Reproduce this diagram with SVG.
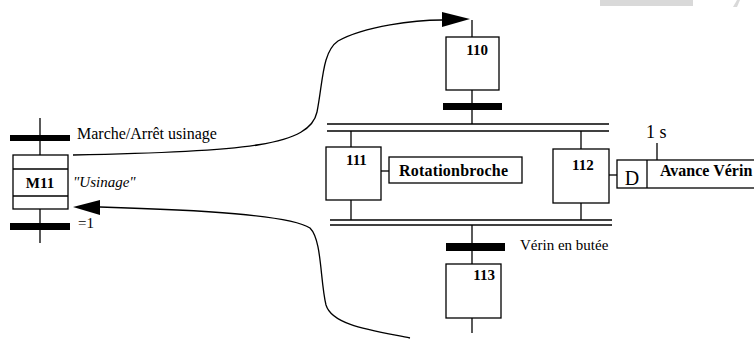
<svg xmlns="http://www.w3.org/2000/svg" width="754" height="340" viewBox="0 0 754 340">
<style>
.ln{stroke:#000;stroke-width:1.3;fill:none}
.box{stroke:#000;stroke-width:1.3;fill:#fff}
.bar{fill:#000}
.t{font-family:"Liberation Serif","Times New Roman",serif;fill:#000}
.b{font-weight:bold}
.num{font-family:"Liberation Serif","Times New Roman",serif;font-weight:bold;font-size:15px;fill:#000}
</style>
<rect width="754" height="340" fill="#fff"/>
<rect x="600" y="0" width="93" height="6" fill="#d9d9d9"/>
<polygon points="733,7 737,0 740,0 737,7" fill="#d9d9d9"/>

<g id="connectors">
  <path class="ln" d="M73,155 C250,152 310,145 317,112 C323,82 322,52 338,41 C365,26 415,20 442,20"/>
  <polygon points="442,12 470,19 442,27" fill="#000"/>
  <path class="ln" d="M100,207 C200,210 290,215 310,228 C322,240 320,280 326,305 C332,325 370,330 410,338"/>
  <polygon points="73,207 100,200 100,215" fill="#000"/>
</g>

<g id="M11">
  <line class="ln" x1="40" y1="118" x2="40" y2="243"/>
  <rect class="bar" x="10" y="135" width="60" height="6"/>
  <rect class="box" x="13" y="155" width="55" height="54"/>
  <line class="ln" x1="13" y1="169" x2="68" y2="169"/>
  <line class="ln" x1="13" y1="196" x2="68" y2="196"/>
  <text class="t b" x="40" y="188" font-size="15" text-anchor="middle">M11</text>
  <rect class="bar" x="10" y="223" width="60" height="7"/>
  <text class="t" x="77" y="139" font-size="16">Marche/Arrêt usinage</text>
  <text class="t" x="73" y="187" font-size="15" font-style="italic">"Usinage"</text>
  <text class="t" x="78" y="228" font-size="15">=1</text>
</g>

<g id="step110">
  <line class="ln" x1="472" y1="20" x2="472" y2="124"/>
  <rect class="box" x="446" y="37" width="53" height="53"/>
  <text class="num" x="488" y="55" text-anchor="end">110</text>
  <rect class="bar" x="443" y="103" width="59" height="7"/>
</g>

<g id="divergence">
  <line class="ln" x1="327" y1="124" x2="609" y2="124"/>
  <line class="ln" x1="327" y1="131" x2="609" y2="131"/>
  <line class="ln" x1="330" y1="220" x2="612" y2="220"/>
  <line class="ln" x1="330" y1="225" x2="612" y2="225"/>
</g>

<g id="step111">
  <line class="ln" x1="351" y1="131" x2="351" y2="220"/>
  <rect class="box" x="326" y="147" width="55" height="53"/>
  <text class="num" x="346" y="165">111</text>
  <line class="ln" x1="381" y1="171" x2="389" y2="171"/>
  <rect class="box" x="389" y="157" width="133" height="26"/>
  <text class="t b" x="399" y="176" font-size="16" textLength="109">Rotationbroche</text>
</g>

<g id="step112">
  <line class="ln" x1="581" y1="131" x2="581" y2="220"/>
  <rect class="box" x="553" y="149" width="56" height="54"/>
  <text class="num" x="572" y="170">112</text>
  <line class="ln" x1="609" y1="175" x2="617" y2="175"/>
  <rect class="box" x="617" y="160" width="145" height="28"/>
  <line class="ln" x1="647" y1="160" x2="647" y2="188"/>
  <text class="t" x="632" y="185" font-size="20" text-anchor="middle">D</text>
  <line class="ln" x1="657" y1="143" x2="657" y2="160"/>
  <text class="t" x="646" y="138" font-size="18">1 s</text>
  <text class="t b" x="660" y="176" font-size="16">Avance Vérin</text>
</g>

<g id="step113">
  <line class="ln" x1="472" y1="225" x2="472" y2="333"/>
  <rect class="bar" x="446" y="243" width="59" height="8"/>
  <rect class="box" x="446" y="264" width="55" height="54"/>
  <text class="num" x="495" y="280" text-anchor="end">113</text>
  <text class="t" x="520" y="250" font-size="15">Vérin en butée</text>
</g>
</svg>
